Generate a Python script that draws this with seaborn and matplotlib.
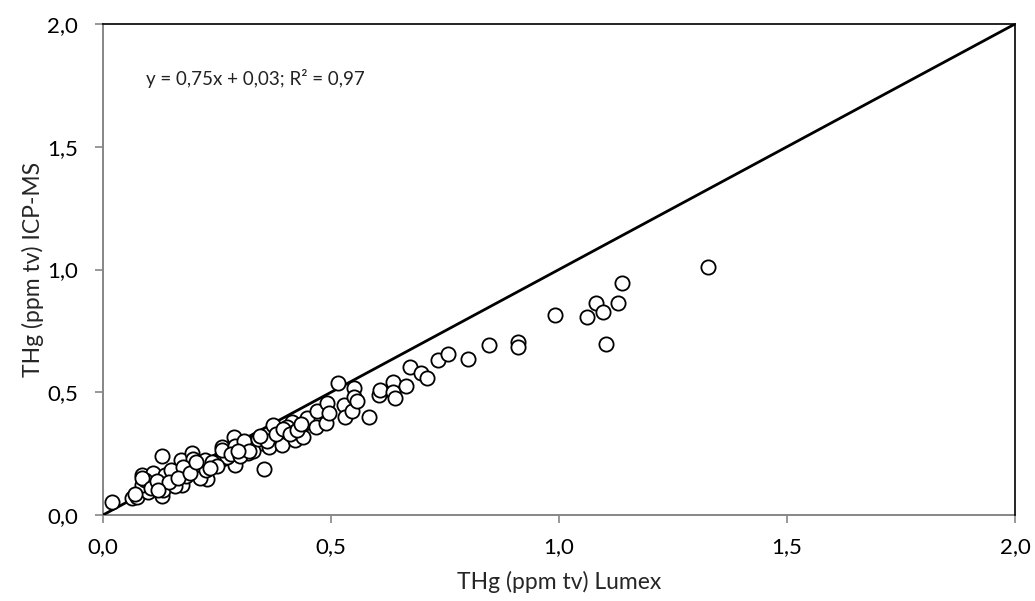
import matplotlib
matplotlib.use("Agg")
import matplotlib.pyplot as plt
import seaborn as sns
import pandas as pd
from matplotlib.ticker import FuncFormatter

# ---- data ----
lumex = [
    0.019, 0.063, 0.074, 0.129, 0.099, 0.085, 0.085, 0.110, 0.092, 0.129,
    0.136, 0.129, 0.158, 0.174, 0.171, 0.196, 0.181, 0.215, 0.202, 0.229,
    0.150, 0.227, 0.260, 0.273, 0.288, 0.304, 0.319, 0.289, 0.260, 0.330,
    0.348, 0.354, 0.373, 0.377, 0.363, 0.392, 0.085, 0.132, 0.157, 0.197,
    0.182, 0.213, 0.175, 0.226, 0.414, 0.330, 0.271, 0.260, 0.289, 0.224,
    0.403, 0.418, 0.421, 0.438, 0.439, 0.447, 0.467, 0.470, 0.489, 0.491,
    0.496, 0.515, 0.528, 0.531, 0.545, 0.550, 0.550, 0.558, 0.584, 0.606,
    0.607, 0.637, 0.637, 0.640, 0.664, 0.673, 0.698, 0.711, 0.735, 0.756,
    0.800, 0.846, 0.910, 0.910, 0.991, 1.062, 1.081, 1.097, 1.102, 1.129,
    1.139, 1.327, 0.070, 0.105, 0.118, 0.145, 0.165, 0.190, 0.240, 0.250,
    0.280, 0.300, 0.310, 0.320, 0.340, 0.360, 0.380, 0.395, 0.410, 0.425,
    0.120, 0.205, 0.235, 0.295, 0.345, 0.435,
]
icpms = [
    0.054, 0.068, 0.075, 0.077, 0.095, 0.122, 0.163, 0.170, 0.143, 0.240,
    0.163, 0.122, 0.132, 0.122, 0.224, 0.254, 0.183, 0.197, 0.176, 0.145,
    0.183, 0.210, 0.278, 0.235, 0.319, 0.272, 0.251, 0.204, 0.227, 0.294,
    0.292, 0.186, 0.367, 0.308, 0.278, 0.285, 0.152, 0.102, 0.120, 0.230,
    0.160, 0.150, 0.195, 0.185, 0.380, 0.260, 0.238, 0.265, 0.280, 0.224,
    0.360, 0.340, 0.305, 0.319, 0.369, 0.394, 0.360, 0.424, 0.374, 0.457,
    0.417, 0.536, 0.448, 0.398, 0.424, 0.516, 0.482, 0.466, 0.400, 0.489,
    0.509, 0.543, 0.502, 0.475, 0.527, 0.601, 0.580, 0.557, 0.631, 0.655,
    0.635, 0.691, 0.705, 0.686, 0.813, 0.807, 0.865, 0.827, 0.697, 0.865,
    0.946, 1.011, 0.085, 0.110, 0.140, 0.135, 0.150, 0.170, 0.215, 0.200,
    0.250, 0.240, 0.300, 0.260, 0.310, 0.300, 0.330, 0.350, 0.330, 0.345,
    0.100, 0.215, 0.190, 0.260, 0.320, 0.370,
]
identity = [0.0, 2.0]
xticks = [0.0, 0.5, 1.0, 1.5, 2.0]
yticks = [0.0, 0.5, 1.0, 1.5, 2.0]
x_label = "THg (ppm tv) Lumex"
y_label = "THg (ppm tv) ICP-MS"
equation = "y = 0,75x + 0,03; R² = 0,97"

df = pd.DataFrame({"lumex": lumex, "icpms": icpms})

sns.set_theme(style="white")
plt.rcParams["font.family"] = ["Lato", "DejaVu Sans"]

fig = plt.figure(figsize=(10.35, 6.01), dpi=100)
ax = fig.add_axes([103 / 1035, 1 - 515 / 601, (1015 - 103) / 1035, (515 - 24) / 601])

ax.plot(identity, identity, color="black", lw=2.0, zorder=2, solid_capstyle="butt")
sns.scatterplot(data=df, x="lumex", y="icpms", ax=ax, marker="o", s=105,
                facecolor="white", edgecolor="black", linewidth=1.3, zorder=3,
                clip_on=False)

ax.set_xlim(0, 2)
ax.set_ylim(0, 2)
ax.set_xticks(xticks)
ax.set_yticks(yticks)
fmt = FuncFormatter(lambda v, p: f"{v:.1f}".replace(".", ","))
ax.xaxis.set_major_formatter(fmt)
ax.yaxis.set_major_formatter(fmt)

for side in ["top", "right"]:
    ax.spines[side].set_color("black")
    ax.spines[side].set_linewidth(1.2)
for side in ["left", "bottom"]:
    ax.spines[side].set_color("#868686")
    ax.spines[side].set_linewidth(1.4)
    ax.spines[side].set_zorder(1)

ax.tick_params(axis="both", which="major", direction="out", length=6, width=1.2,
               color="#868686", labelsize=16, labelcolor="black",
               bottom=True, left=True, top=False, right=False)
ax.tick_params(axis="x", pad=10)
ax.tick_params(axis="y", pad=12)

ax.set_xlabel(x_label, fontsize=16.5, labelpad=10)
ax.set_ylabel(y_label, fontsize=16.5, labelpad=2)

ax.text(0.095, 1.78, equation, fontsize=13.5, ha="left", va="center", color="#222222")

fig.savefig("out.png", dpi=100)
